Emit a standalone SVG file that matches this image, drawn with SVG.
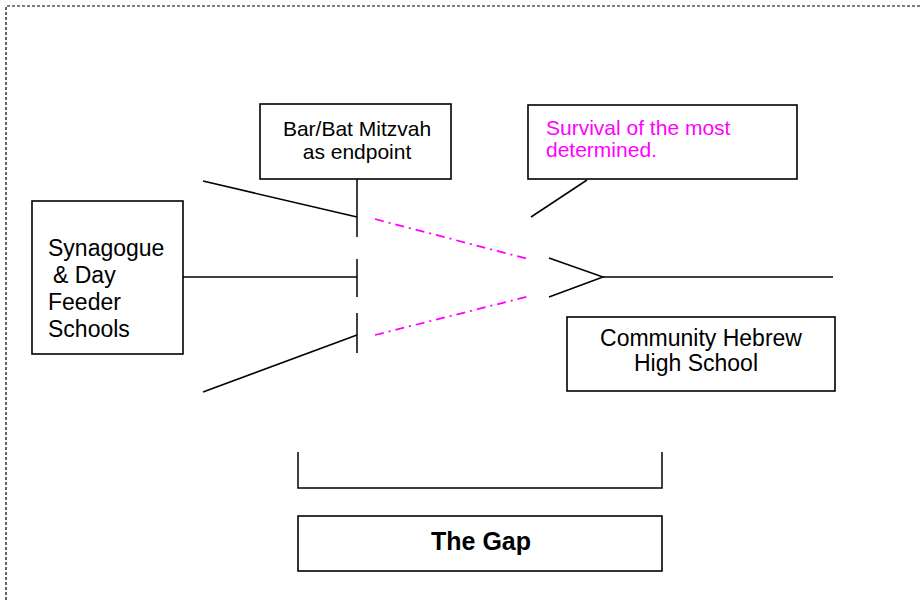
<svg xmlns="http://www.w3.org/2000/svg" width="920" height="600" viewBox="0 0 920 600">
<style>
.box{fill:#fff;stroke:#000;stroke-width:1.6}
.ln{stroke:#000;stroke-width:1.5;fill:none}
.mg{stroke:#ff00ff;stroke-width:1.8;fill:none;stroke-dasharray:9,5,2,5}
.t{font-family:"Liberation Sans",Arial,sans-serif;fill:#000}
.bd{stroke:#000;stroke-width:1.2;stroke-dasharray:3,2;fill:none}
</style>
<rect width="920" height="600" fill="#fff"/>
<path class="bd" d="M6,600 V6 H920"/>
<g id="connectors">
<line class="ln" x1="203" y1="181" x2="357" y2="217"/>
<line class="ln" x1="183" y1="277" x2="357" y2="277"/>
<line class="ln" x1="203" y1="392" x2="357" y2="335"/>
<line class="ln" x1="357" y1="179" x2="357" y2="237"/>
<line class="ln" x1="357" y1="259" x2="357" y2="297"/>
<line class="ln" x1="357" y1="313" x2="357" y2="353"/>
<line class="mg" x1="375" y1="219" x2="528" y2="259"/>
<line class="mg" x1="375" y1="335" x2="530" y2="296"/>
<polyline class="ln" points="549,258 603,277 549,297"/>
<line class="ln" x1="603" y1="277" x2="833" y2="277"/>
<line class="ln" x1="587" y1="180" x2="531" y2="217"/>
<polyline class="ln" points="298,452 298,488 662,488 662,452"/>
</g>
<g id="feeder">
<rect class="box" x="32" y="201" width="151" height="153"/>
<text class="t" font-size="23" x="48" y="256">Synagogue</text>
<text class="t" font-size="23" x="53" y="283">&amp; Day</text>
<text class="t" font-size="23" x="48" y="310">Feeder</text>
<text class="t" font-size="23" x="48" y="337">Schools</text>
</g>
<g id="barbat">
<rect class="box" x="260" y="104" width="191" height="75"/>
<text class="t" font-size="21" x="357" y="136" text-anchor="middle">Bar/Bat Mitzvah</text>
<text class="t" font-size="21" x="357" y="159" text-anchor="middle">as  endpoint</text>
</g>
<g id="survival">
<rect class="box" x="528" y="105" width="269" height="74"/>
<text class="t" font-size="21" x="546" y="135" style="fill:#ff00ff">Survival of the most</text>
<text class="t" font-size="21" x="546" y="157" style="fill:#ff00ff">determined.</text>
</g>
<g id="community">
<rect class="box" x="567" y="317" width="268" height="74"/>
<text class="t" font-size="23" x="701" y="346" text-anchor="middle">Community Hebrew</text>
<text class="t" font-size="23" x="696" y="371" text-anchor="middle">High School</text>
</g>
<g id="gap">
<rect class="box" x="298" y="516" width="364" height="55"/>
<text class="t" font-size="25" font-weight="bold" x="481" y="550" text-anchor="middle">The Gap</text>
</g>
</svg>
